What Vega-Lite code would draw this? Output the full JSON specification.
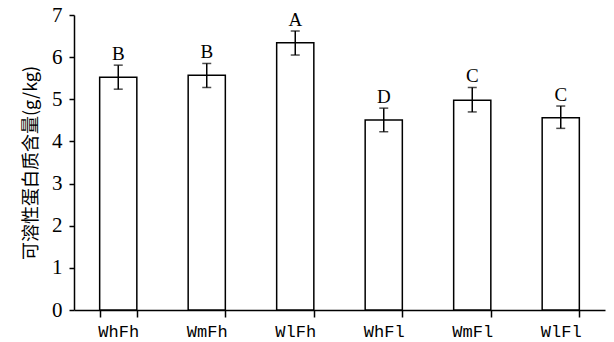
{
  "$schema": "https://vega.github.io/schema/vega-lite/v6.json",
  "autosize": {"type": "none"},
  "padding": {"left": 74, "top": 15, "right": 9, "bottom": 32},
  "width": 531,
  "height": 295,
  "background": "white",
  "config": {
    "view": {"stroke": null},
    "axis": {"grid": false, "domainColor": "black", "tickColor": "black", "labelColor": "black", "titleColor": "black", "domainWidth": 1.5, "tickWidth": 1.5},
    "axisY": {"title": "可溶性蛋白质含量(g/kg)", "titleFont": "Noto Sans CJK SC", "titleFontSize": 18, "titleFontWeight": "normal", "titlePadding": 11, "values": [0,1,2,3,4,5,6,7], "labelOverlap": false, "ticks": true, "tickSize": 5, "labelFont": "Liberation Serif", "labelFontSize": 21, "labelPadding": 7,
      "encode": {"ticks": {"update": {"x2": {"value": 4}}}}}
  },
  "data": {
    "values": [
      {"group": "WhFh", "mean": 5.52, "lo": 5.24, "hi": 5.81, "letter": "B"},
      {"group": "WmFh", "mean": 5.57, "lo": 5.28, "hi": 5.85, "letter": "B"},
      {"group": "WlFh", "mean": 6.34, "lo": 6.05, "hi": 6.62, "letter": "A"},
      {"group": "WhFl", "mean": 4.51, "lo": 4.23, "hi": 4.79, "letter": "D"},
      {"group": "WmFl", "mean": 4.98, "lo": 4.70, "hi": 5.28, "letter": "C"},
      {"group": "WlFl", "mean": 4.56, "lo": 4.31, "hi": 4.84, "letter": "C"}
    ]
  },
  "encoding": {
    "x": {
      "field": "group", "type": "nominal", "sort": null,
      "scale": {"paddingInner": 0.58, "paddingOuter": 0.29},
      "axis": {"title": null, "labelAngle": 0, "labelFont": "Liberation Mono", "labelFontSize": 17, "ticks": true, "tickBand": "extent", "tickSize": 7, "labelPadding": 6,
        "encode": {"ticks": {"update": {"y2": {"value": -7}}}}}
    }
  },
  "layer": [
    {
      "mark": {"type": "bar", "fill": "white", "stroke": "black", "strokeWidth": 1.5},
      "encoding": {
        "y": {"field": "mean", "type": "quantitative", "scale": {"domain": [0, 7], "nice": false}, "title": "可溶性蛋白质含量(g/kg)"}
      }
    },
    {
      "mark": {"type": "rule", "color": "black", "strokeWidth": 1.5},
      "encoding": {"y": {"field": "lo", "type": "quantitative", "title": "可溶性蛋白质含量(g/kg)"}, "y2": {"field": "hi"}}
    },
    {
      "mark": {"type": "tick", "color": "black", "thickness": 1.5, "size": 9},
      "encoding": {"y": {"field": "lo", "type": "quantitative", "title": "可溶性蛋白质含量(g/kg)"}}
    },
    {
      "mark": {"type": "tick", "color": "black", "thickness": 1.5, "size": 9},
      "encoding": {"y": {"field": "hi", "type": "quantitative", "title": "可溶性蛋白质含量(g/kg)"}}
    },
    {
      "mark": {"type": "text", "font": "Liberation Serif", "fontSize": 19, "baseline": "alphabetic", "dy": -5, "color": "black"},
      "encoding": {"y": {"field": "hi", "type": "quantitative", "title": "可溶性蛋白质含量(g/kg)"}, "text": {"field": "letter"}}
    }
  ]
}
